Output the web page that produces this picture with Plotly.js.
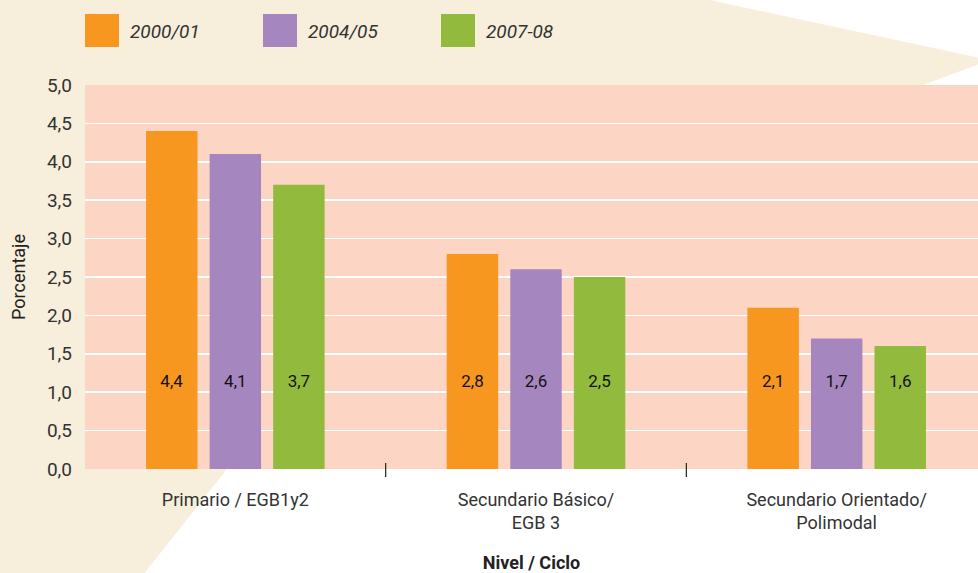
<!DOCTYPE html>
<html>
<head>
<meta charset="utf-8">
<script src="https://cdn.plot.ly/plotly-3.0.1.min.js"></script>
<style>html,body{margin:0;padding:0;background:#fff;}#chart{width:978px;height:573px;}</style>
</head>
<body>
<div id="chart"></div>
<script>
// ---- data ----
const categories = ["Primario / EGB1y2", "Secundario Básico/<br>EGB 3", "Secundario Orientado/<br>Polimodal"];
const seriesNames = ["2000/01", "2004/05", "2007-08"];
const values2000 = [4.4, 2.8, 2.1];
const values2004 = [4.1, 2.6, 1.7];
const values2007 = [3.7, 2.5, 1.6];
const seriesColors = ["#f7971f", "#a686be", "#92bb3d"];
const yTicks = [0, 0.5, 1, 1.5, 2, 2.5, 3, 3.5, 4, 4.5, 5];

const allValues = [values2000, values2004, values2007];
const xIdx = categories.map((c, i) => i);

const FONT = "Roboto, 'Open Sans', sans-serif";
const traces = [];
allValues.forEach((vals, s) => {
  traces.push({
    type: "bar", x: xIdx, y: vals, name: seriesNames[s],
    marker: {color: seriesColors[s], line: {width: 0}},
    offsetgroup: "g" + s, hoverinfo: "skip", showlegend: false
  });
});
// value labels placed at a fixed height inside each bar
allValues.forEach((vals, s) => {
  traces.push({
    type: "bar", x: xIdx, y: vals.map(() => 0.34), base: vals.map(() => 0.98),
    offsetgroup: "g" + s, marker: {color: "rgba(0,0,0,0)", line: {width: 0}},
    text: vals.map(v => v.toFixed(1).replace(".", ",")),
    textposition: "inside", insidetextanchor: "middle", constraintext: "none",
    textfont: {family: FONT, size: 17, color: "#111"},
    hoverinfo: "skip", showlegend: false, cliponaxis: false
  });
});

// plot geometry helpers (paper coordinates)
const L = 85, T = 85, W = 893, H = 384;
const px = v => (v - L) / W;
const py = v => (T + H - v) / H;

const shapes = [
  {type: "path", xref: "paper", yref: "paper", layer: "below", line: {width: 0}, fillcolor: "#f7efdc",
   path: `M ${px(-5)} ${py(-5)} L ${px(686)} ${py(-5)} L ${px(990)} ${py(60)} L ${px(923)} ${py(85)} L ${px(227)} ${py(469)} L ${px(139)} ${py(580)} L ${px(-5)} ${py(580)} Z`},
  {type: "rect", xref: "paper", yref: "paper", layer: "below", line: {width: 0}, fillcolor: "#fdd5c4",
   x0: 0, x1: 1, y0: 0, y1: 1}
];
// category separator ticks
[0.5, 1.5].forEach(b => shapes.push({type: "line", xref: "x", yref: "paper", x0: b, x1: b,
  y0: py(477), y1: py(463), line: {color: "#222", width: 1.2}}));

// legend drawn as large swatches
const legendX = [85, 263, 441];
const annotations = [];
seriesNames.forEach((n, s) => {
  shapes.push({type: "rect", xref: "paper", yref: "paper", line: {width: 0}, fillcolor: seriesColors[s],
    x0: px(legendX[s]), x1: px(legendX[s] + 34), y0: py(47), y1: py(14)});
  annotations.push({xref: "paper", yref: "paper", x: px(legendX[s] + 43), y: py(31), xanchor: "left", yanchor: "middle",
    text: "<i>" + n + "</i>", showarrow: false, font: {family: FONT, size: 19, color: "#333"}});
});

const layout = {
  width: 978, height: 573,
  margin: {l: L, r: 0, t: T, b: 573 - T - H, pad: 0},
  paper_bgcolor: "#ffffff", plot_bgcolor: "rgba(0,0,0,0)",
  separators: ",.",
  barmode: "group", bargap: 0.366, bargroupgap: 0.19,
  showlegend: false,
  font: {family: FONT, color: "#333"},
  xaxis: {
    range: [-0.5, 2.47], tickvals: xIdx, ticktext: categories, ticks: "",
    showgrid: false, zeroline: false, showline: false,
    tickfont: {family: FONT, size: 18, color: "#333"}, ticklabelstandoff: 18,
    title: {text: "<b>Nivel / Ciclo</b>", font: {family: FONT, size: 18, color: "#222"}, standoff: 25}
  },
  yaxis: {
    range: [0, 5], tickvals: yTicks, tickformat: ".1f", ticks: "",
    showgrid: true, gridcolor: "#ffffff", gridwidth: 1.5, zeroline: false, showline: false,
    tickfont: {family: FONT, size: 19, color: "#333"}, ticklabelstandoff: 12,
    title: {text: "Porcentaje", font: {family: FONT, size: 18, color: "#222"}, standoff: 16}
  },
  shapes: shapes, annotations: annotations
};

Plotly.newPlot("chart", traces, layout, {displayModeBar: false, staticPlot: true});
</script>
</body>
</html>
